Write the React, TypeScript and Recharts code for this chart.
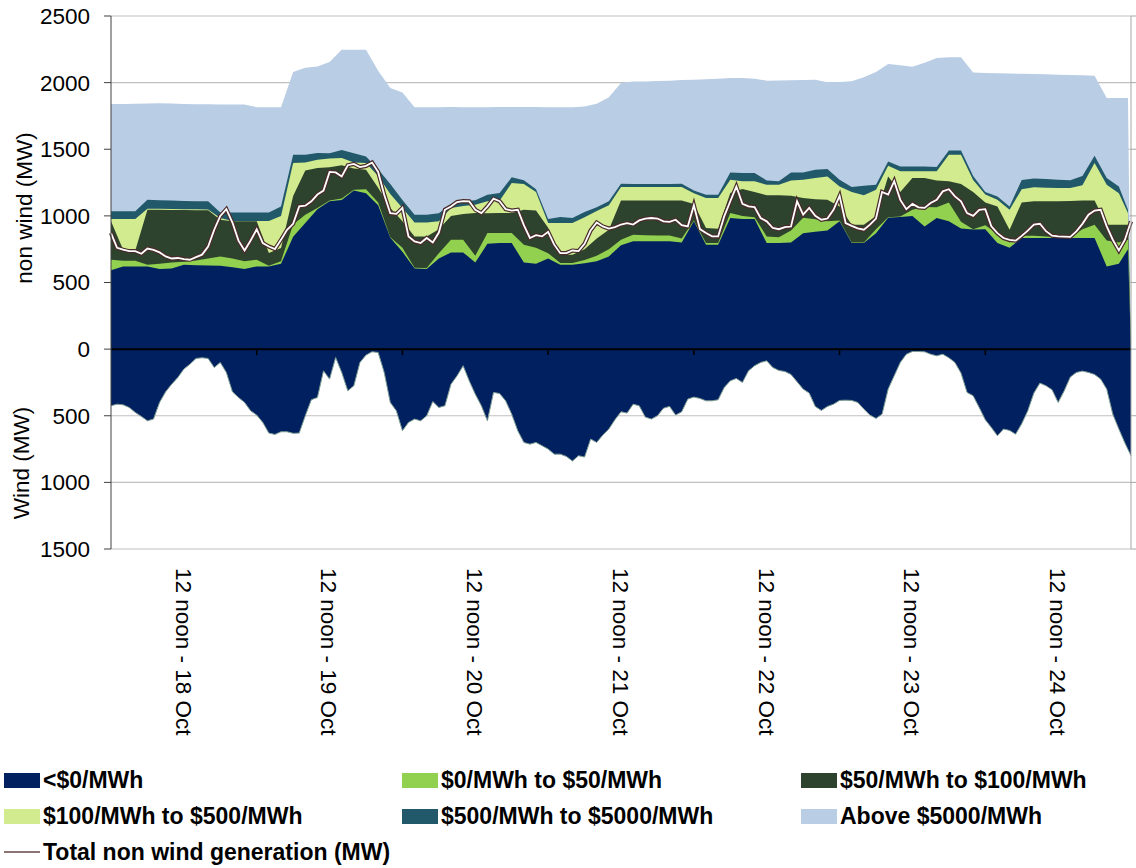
import React from 'react';
import { ComposedChart, Area, Line, XAxis, YAxis, CartesianGrid, ReferenceLine } from 'recharts';

const FONT = "'Liberation Sans', Arial, Helvetica, sans-serif";

// hours since midnight 18 Oct (offer stack sampling)
const hours = [0, 2, 4, 6, 8, 10, 12, 14, 16, 18, 20, 22, 24, 26, 28, 30, 32, 34, 36, 38, 40, 42, 44, 46, 48, 50, 52, 54, 56, 58, 60, 62, 64, 66, 68, 70, 72, 74, 76, 78, 80, 82, 84, 86, 88, 90, 92, 94, 96, 98, 100, 102, 104, 106, 108, 110, 112, 114, 116, 118, 120, 122, 124, 126, 128, 130, 132, 134, 136, 138, 140, 142, 144, 146, 148, 150, 152, 154, 156, 158, 160, 162, 164, 166, 167.5, 168];

// cumulative offer levels (MW): top of each price band
const levelBelow0 = [591, 621, 621, 621, 601, 605, 634, 630, 628, 626, 615, 601, 621, 621, 640, 843, 946, 1050, 1110, 1120, 1190, 1170, 1080, 835, 730, 606, 601, 680, 726, 726, 650, 790, 796, 796, 650, 640, 680, 634, 634, 645, 659, 696, 780, 809, 809, 809, 809, 800, 960, 784, 784, 984, 976, 976, 796, 796, 800, 870, 880, 890, 960, 796, 796, 870, 985, 991, 1000, 921, 984, 960, 905, 897, 900, 796, 760, 834, 834, 834, 834, 834, 834, 834, 621, 640, 750, 0];
const levelTo50 = [671, 664, 664, 634, 640, 650, 655, 665, 680, 696, 680, 659, 671, 625, 660, 935, 1009, 1060, 1115, 1130, 1196, 1200, 1100, 840, 760, 610, 609, 720, 821, 821, 700, 871, 871, 871, 784, 760, 720, 646, 646, 668, 700, 750, 820, 859, 855, 853, 852, 830, 965, 796, 796, 1021, 1000, 990, 846, 840, 890, 985, 975, 960, 965, 800, 800, 900, 990, 995, 1046, 1066, 1065, 1100, 955, 900, 930, 865, 800, 851, 851, 845, 840, 838, 900, 934, 815, 800, 820, 0];
const levelTo100 = [959, 746, 740, 1046, 1046, 1045, 1044, 1043, 1042, 971, 959, 959, 959, 721, 759, 1150, 1341, 1359, 1365, 1380, 1355, 1346, 1212, 1060, 960, 846, 846, 900, 1000, 1015, 1021, 1020, 1021, 1021, 1046, 1040, 910, 709, 709, 750, 830, 896, 1116, 1116, 1116, 1116, 1116, 1116, 1090, 909, 904, 1171, 1201, 1180, 1155, 1155, 1151, 1134, 1125, 1121, 1071, 934, 934, 1000, 1296, 1180, 1284, 1284, 1266, 1259, 1240, 1180, 1100, 1071, 896, 1100, 1109, 1109, 1109, 1112, 1115, 1116, 934, 934, 934, 0];
const levelTo500 = [976, 976, 976, 1054, 1054, 1052, 1050, 1049, 1048, 984, 962, 962, 962, 962, 1000, 1396, 1400, 1421, 1430, 1434, 1400, 1396, 1300, 1165, 1060, 951, 951, 960, 1060, 1075, 1084, 1109, 1114, 1246, 1240, 1180, 946, 946, 946, 990, 1037, 1080, 1216, 1216, 1216, 1216, 1216, 1216, 1170, 1134, 1134, 1271, 1260, 1259, 1234, 1234, 1265, 1271, 1285, 1296, 1221, 1180, 1154, 1196, 1376, 1334, 1334, 1334, 1334, 1459, 1459, 1270, 1160, 1121, 1046, 1200, 1214, 1212, 1210, 1209, 1230, 1396, 1234, 1170, 1021, 0];
const levelTo5000 = [1034, 1034, 1034, 1121, 1118, 1115, 1112, 1110, 1109, 1026, 1026, 1026, 1026, 1026, 1070, 1459, 1459, 1471, 1470, 1494, 1470, 1446, 1350, 1240, 1120, 1009, 1009, 1020, 1090, 1110, 1118, 1159, 1171, 1289, 1268, 1200, 976, 991, 984, 1030, 1065, 1109, 1241, 1240, 1240, 1240, 1240, 1241, 1190, 1159, 1159, 1326, 1321, 1321, 1266, 1259, 1326, 1326, 1346, 1351, 1271, 1216, 1226, 1234, 1409, 1371, 1371, 1371, 1366, 1491, 1491, 1300, 1180, 1146, 1071, 1270, 1280, 1276, 1272, 1268, 1300, 1451, 1284, 1220, 1046, 0];
const levelAbove5000 = [1839, 1840, 1842, 1844, 1845, 1843, 1840, 1838, 1837, 1836, 1836, 1835, 1815, 1815, 1815, 2080, 2111, 2121, 2155, 2246, 2246, 2246, 2090, 1959, 1926, 1816, 1816, 1816, 1818, 1816, 1815, 1816, 1818, 1818, 1818, 1818, 1816, 1816, 1816, 1820, 1841, 1891, 1997, 2009, 2009, 2012, 2015, 2020, 2021, 2025, 2030, 2034, 2034, 2030, 2015, 2016, 2018, 2020, 2021, 2002, 2004, 2010, 2040, 2080, 2140, 2131, 2120, 2150, 2184, 2190, 2191, 2076, 2072, 2070, 2068, 2066, 2064, 2062, 2060, 2058, 2055, 2052, 1884, 1884, 1884, 0];

// hourly series
const hoursFine = [0, 1, 2, 3, 4, 5, 6, 7, 8, 9, 10, 11, 12, 13, 14, 15, 16, 17, 18, 19, 20, 21, 22, 23, 24, 25, 26, 27, 28, 29, 30, 31, 32, 33, 34, 35, 36, 37, 38, 39, 40, 41, 42, 43, 44, 45, 46, 47, 48, 49, 50, 51, 52, 53, 54, 55, 56, 57, 58, 59, 60, 61, 62, 63, 64, 65, 66, 67, 68, 69, 70, 71, 72, 73, 74, 75, 76, 77, 78, 79, 80, 81, 82, 83, 84, 85, 86, 87, 88, 89, 90, 91, 92, 93, 94, 95, 96, 97, 98, 99, 100, 101, 102, 103, 104, 105, 106, 107, 108, 109, 110, 111, 112, 113, 114, 115, 116, 117, 118, 119, 120, 121, 122, 123, 124, 125, 126, 127, 128, 129, 130, 131, 132, 133, 134, 135, 136, 137, 138, 139, 140, 141, 142, 143, 144, 145, 146, 147, 148, 149, 150, 151, 152, 153, 154, 155, 156, 157, 158, 159, 160, 161, 162, 163, 164, 165, 166, 167, 168];

const totalNonWind = [871, 760, 746, 735, 735, 716, 755, 745, 726, 696, 680, 684, 675, 671, 690, 709, 770, 896, 1000, 1050, 950, 814, 740, 815, 900, 796, 770, 751, 820, 896, 940, 1071, 1076, 1109, 1160, 1190, 1330, 1326, 1296, 1380, 1390, 1366, 1375, 1400, 1330, 1159, 1020, 1015, 1060, 846, 809, 796, 834, 801, 875, 1046, 1071, 1104, 1110, 1109, 1046, 1021, 1070, 1129, 1110, 1051, 1040, 1046, 930, 834, 855, 846, 880, 784, 720, 721, 740, 736, 790, 891, 950, 921, 905, 916, 935, 946, 935, 966, 979, 984, 980, 959, 955, 971, 930, 921, 1080, 901, 871, 846, 846, 996, 1110, 1220, 1090, 1071, 1066, 984, 959, 909, 900, 916, 920, 1109, 1009, 1059, 1000, 971, 980, 1046, 1150, 946, 925, 906, 896, 934, 980, 1180, 1160, 1260, 1120, 1050, 1090, 1064, 1060, 1096, 1121, 1184, 1200, 1146, 1110, 1021, 1000, 1046, 1050, 921, 870, 834, 820, 814, 850, 889, 934, 941, 885, 851, 846, 844, 842, 884, 940, 1009, 1040, 1046, 921, 821, 740, 821, 959];

// wind generation plotted below zero
const wind = [-425, -413, -418, -438, -475, -505, -538, -525, -400, -320, -263, -213, -150, -113, -70, -65, -70, -138, -100, -175, -320, -363, -400, -463, -495, -550, -630, -640, -620, -620, -632, -630, -500, -380, -363, -163, -225, -63, -175, -313, -275, -100, -45, -20, -25, -175, -400, -463, -612, -550, -525, -538, -500, -393, -438, -425, -263, -200, -125, -238, -338, -425, -538, -325, -333, -388, -488, -613, -700, -713, -700, -725, -750, -788, -788, -805, -840, -800, -810, -675, -700, -645, -600, -530, -470, -480, -413, -425, -510, -525, -500, -443, -430, -495, -470, -375, -360, -370, -388, -388, -380, -288, -238, -220, -250, -163, -125, -100, -88, -138, -160, -168, -190, -245, -300, -330, -430, -460, -430, -413, -385, -383, -385, -400, -450, -495, -520, -488, -300, -200, -100, -38, -18, -18, -20, -38, -50, -38, -65, -100, -180, -325, -350, -438, -530, -588, -650, -600, -610, -638, -560, -463, -330, -255, -275, -305, -400, -313, -210, -175, -165, -175, -190, -225, -300, -488, -600, -705, -800];

const noonTicks = [12, 36, 60, 84, 108, 132, 156];
const noonLabels = ['12 noon - 18 Oct', '12 noon - 19 Oct', '12 noon - 20 Oct', '12 noon - 21 Oct', '12 noon - 22 Oct', '12 noon - 23 Oct', '12 noon - 24 Oct'];
const midnightTicks = [24, 48, 72, 96, 120, 144];
const yTicks = [-1500, -1000, -500, 0, 500, 1000, 1500, 2000, 2500];

const bandNames = ['Above $5000/MWh', '$500/MWh to $5000/MWh', '$100/MWh to $500/MWh', '$50/MWh to $100/MWh', '$0/MWh to $50/MWh', '<$0/MWh'];
const bandKeys = ['above5000', 'to5000', 'to500', 'to100', 'to50', 'below0'];
const bandColors = ['#b9cde5', '#22596a', '#d2eb8e', '#2e432e', '#92d050', '#00205f'];

const data = hours.map((t, i) => ({
  t,
  above5000: levelAbove5000[i],
  to5000: levelTo5000[i],
  to500: levelTo500[i],
  to100: levelTo100[i],
  to50: levelTo50[i],
  below0: levelBelow0[i],
}));

const fineData = hoursFine.map((t, i) => ({ t, total: totalNonWind[i], wind: wind[i] }));

const NoonTick = (props: any) => {
  const { x, payload } = props;
  const idx = noonTicks.indexOf(payload.value);
  return (
    <text
      transform={`translate(${x},568) rotate(90)`}
      dy="0.36em"
      textAnchor="start"
      fontSize={22.5}
      fontFamily={FONT}
      fill="#000"
    >
      {noonLabels[idx]}
    </text>
  );
};

const legendRows = [
  [
    { name: '<$0/MWh', color: '#00205f' },
    { name: '$0/MWh to $50/MWh', color: '#92d050' },
    { name: '$50/MWh to $100/MWh', color: '#2e432e' },
  ],
  [
    { name: '$100/MWh to $500/MWh', color: '#d2eb8e' },
    { name: '$500/MWh to $5000/MWh', color: '#22596a' },
    { name: 'Above $5000/MWh', color: '#b9cde5' },
  ],
];
const legendRowY = [780, 816];
const legendColX = [4, 402, 801];

export default function App() {
  return (
    <div style={{ position: 'absolute', left: 0, top: 0, width: 1136, height: 868, background: '#fff', fontFamily: FONT }}>
      <ComposedChart width={1136} height={760} data={data} margin={{ top: 16, right: 0, bottom: 0, left: 0 }}>
        <CartesianGrid vertical={false} stroke="#c0c0c0" strokeWidth={1.2} />
        <XAxis
          dataKey="t"
          type="number"
          domain={[0, 168]}
          ticks={noonTicks}
          interval={0}
          axisLine={false}
          tickLine={false}
          height={211}
          tick={<NoonTick />}
        />
        <YAxis
          domain={[-1500, 2500]}
          ticks={yTicks}
          interval={0}
          width={111}
          tickSize={7}
          tickMargin={14}
          tickFormatter={(v: number) => String(Math.abs(v))}
          axisLine={{ stroke: '#404040' }}
          tickLine={{ stroke: '#404040' }}
          tick={{ fill: '#000', fontSize: 22.5, fontFamily: FONT }}
          allowDataOverflow
        />
        <YAxis
          yAxisId="r"
          orientation="right"
          domain={[-1500, 2500]}
          ticks={yTicks}
          interval={0}
          width={5}
          tickSize={5}
          tickFormatter={() => ''}
          axisLine={{ stroke: '#a6a6a6' }}
          tickLine={{ stroke: '#a6a6a6' }}
          tick={{ fontSize: 1 }}
          allowDataOverflow
        />
        {bandKeys.map((k, i) => (
          <Area
            key={k}
            dataKey={k}
            name={bandNames[i]}
            type="linear"
            fill={bandColors[i]}
            fillOpacity={1}
            stroke="none"
            baseValue={0}
            dot={false}
            activeDot={false}
            isAnimationActive={false}
          />
        ))}
        <Area
          data={fineData}
          dataKey="wind"
          name="Wind"
          type="linear"
          fill="#00205f"
          fillOpacity={1}
          stroke="#7d9c92"
          strokeWidth={1}
          baseValue={0}
          dot={false}
          activeDot={false}
          isAnimationActive={false}
        />
        <Line data={fineData} dataKey="total" type="linear" stroke="#4a2b2b" strokeWidth={4.2} dot={false} activeDot={false} isAnimationActive={false} />
        <Line data={fineData} dataKey="total" type="linear" stroke="#ffffff" strokeWidth={1.8} dot={false} activeDot={false} isAnimationActive={false} />
        <ReferenceLine y={0} stroke="#000" strokeWidth={2} />
        {midnightTicks.map((t) => (
          <ReferenceLine key={t} segment={[{ x: t, y: 0 }, { x: t, y: -45 }]} stroke="#000" strokeWidth={1.5} />
        ))}
      </ComposedChart>

      <div style={{ position: 'absolute', left: 25, top: 208, transform: 'translate(-50%,-50%) rotate(-90deg)', whiteSpace: 'nowrap', fontSize: 22.5, color: '#000' }}>
        non wind (MW)
      </div>
      <div style={{ position: 'absolute', left: 22, top: 463, transform: 'translate(-50%,-50%) rotate(-90deg)', whiteSpace: 'nowrap', fontSize: 22.5, color: '#000' }}>
        Wind (MW)
      </div>

      {legendRows.map((row, ri) =>
        row.map((item, ci) => (
          <div key={item.name} style={{ position: 'absolute', left: legendColX[ci], top: legendRowY[ri] - 14, height: 28, display: 'flex', alignItems: 'center', whiteSpace: 'nowrap' }}>
            <div style={{ width: 36, height: 15, background: item.color, marginRight: 3 }} />
            <span style={{ fontWeight: 'bold', fontSize: 23, color: '#000' }}>{item.name}</span>
          </div>
        ))
      )}
      <div style={{ position: 'absolute', left: 4, top: 852 - 14, height: 28, display: 'flex', alignItems: 'center', whiteSpace: 'nowrap' }}>
        <div style={{ width: 36, height: 2, background: '#8c7474', marginRight: 3 }} />
        <span style={{ fontWeight: 'bold', fontSize: 23, color: '#000' }}>Total non wind generation (MW)</span>
      </div>
    </div>
  );
}
